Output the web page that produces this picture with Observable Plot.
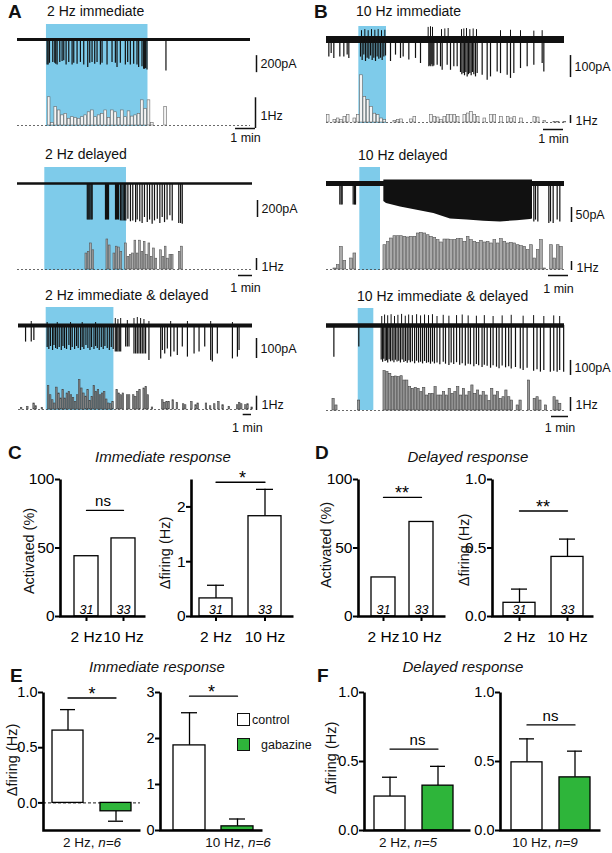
<!DOCTYPE html>
<html><head><meta charset="utf-8">
<script src="https://cdn.jsdelivr.net/npm/d3@7"></script>
<script src="https://cdn.jsdelivr.net/npm/@observablehq/plot@0.6"></script>
<style>
body{margin:0;background:#fff}
#fig{position:relative;width:612px;height:853px;overflow:hidden;font-family:"Liberation Sans",Arial,Helvetica,sans-serif;color:#111;background:#fff}
.t{position:absolute;white-space:nowrap;line-height:1}
.bar g[aria-label="y-axis"] line,.bar g[aria-label="x-axis"] line,.bar g[aria-label="y-axis tick"] path,.bar g[aria-label="x-axis tick"] path{stroke-width:2px}
</style></head><body><div id="fig"></div>
<script>
const BLUE = "#7ecbea", GREEN = "#2eb53a";
const FONT = '"Liberation Sans", Arial, Helvetica, sans-serif';

// ================= DATA: panels A & B (recording traces) =================
const traceTitles = ["2 Hz immediate", "2 Hz delayed", "2 Hz immediate & delayed",
                     "10 Hz immediate", "10 Hz delayed", "10 Hz immediate & delayed"];
const traceDur = [700, 1007, 1690, 714, 714, 840];           // s
const stimWin = [[87,392],[117,467],[200,689],[97,180],[100,162],[112,167]]; // s
const binWidth = [10, 10, 15, 10, 10, 10];                    // s per rate bin
const currentScale = [200, 200, 100, 100, 50, 100];           // pA scale bars

// spikes: [time s, downward amplitude pA]
const a1Spikes = [[89,300],[92,300],[96,280],[106,270],[112,280],[115,290],[119,300],[127,270],[134,260],[139,250],[146,300],[154,270],[164,300],[169,280],[179,290],[189,270],[199,300],[211,330],[217,280],[224,270],[232,290],[239,270],[249,300],[254,280],[269,300],[284,270],[294,280],[299,330],[309,280],[324,300],[331,270],[339,300],[349,290],[359,300],[364,330],[374,320],[379,350],[382,350],[385,340],[389,360],[446,370]];
const a2Spikes = [[299,430],[303,430],[307,430],[311,430],[316,430],[320,430],[377,430],[381,430],[386,430],[390,430],[420,430],[424,430],[429,430],[433,430],[441,440],[447,440],[453,440],[459,440],[464,440],[473,420],[484,450],[494,440],[506,460],[513,430],[524,450],[534,470],[544,400],[556,460],[566,430],[577,480],[587,440],[599,420],[610,470],[620,400],[630,460],[641,430],[653,380],[663,440],[691,470],[699,470],[706,480]];
const a3Spikes = [[51,83],[92,83],[111,75],
 [207,110],[219,120],[231,105],[246,125],[256,100],[268,115],[280,120],[294,110],[309,125],[321,105],[333,115],[347,120],[364,100],[376,125],[388,110],[405,120],[419,105],[431,115],[448,125],[460,110],[472,120],[487,100],[501,115],[516,125],[528,110],[545,120],[557,105],[569,115],[583,125],[598,110],[612,120],[624,105],[641,115],[656,125],[670,110],[684,120],
 [699,133],[709,133],[718,133],[728,133],[738,133],[774,108],[786,108],[798,108],[834,142],[846,142],[858,142],[870,142],[882,142],[894,142],[906,142],[918,142],[942,175],[1027,167],[1039,125],[1056,142],[1075,117],[1099,158],[1123,133],[1147,150],[1183,108],[1220,158],[1268,142],[1304,133],[1345,108],[1388,175],[1400,183],[1436,142],[1545,167],[1581,158],[1593,125]];
const b1Spikes = [[7,79],[14,64],[22,86],[40,79],[52,79],[62,71],[67,86],
 [102,80],[107,95],[112,70],[117,100],[122,85],[127,90],[132,75],[137,95],[142,85],[147,100],[152,80],[157,90],[162,85],[167,95],[172,80],[177,75],
 [192,100],[207,71],[222,86],[230,79],[247,93],[267,86],[282,109],[307,124],[310,120],[313,124],[316,115],[319,124],[322,120],[332,117],[342,124],[347,140],[362,117],[372,140],[382,124],[392,124],[402,150],[406,160],[410,155],[414,165],[418,150],[422,170],[426,160],[430,155],[434,165],[438,150],[442,160],[447,170],[452,155],[467,162],[482,185],[492,170],[512,148],[522,155],[542,162],[552,177],[562,155],[582,132],[602,124],[622,117],[647,109],[652,148]];
const b2Spikes = [[40,72],[44,72],[47,72],[80,72],[84,72],[87,72],[622,128],[627,122],[634,128],[667,133],[672,128],[680,133],[692,122],[700,128]];
const b2Band = [[172,60],[180,67],[222,78],[272,89],[322,100],[372,118],[422,122],[472,126],[522,128],[572,124],[612,120],[618,118]]; // dense firing envelope [t, pA]
const b3Spikes = [[26,211],[114,144],
 [193,230],[198,245],[202,225],[207,240],[212,235],[216,250],[221,228],[226,242],[232,236],[238,248],[243,232],[249,244],[255,238],[261,250],[267,230],[273,246],[279,240],[285,252],[291,235],[296,248],[303,242],[311,255],[318,238],[325,250],[332,245],[339,256],[346,240],[353,252],[360,248],[367,258],[374,244],[381,256],
 [390,250],[400,262],[412,245],[420,258],[432,266],[440,250],[449,260],[459,248],[470,265],[479,255],[490,270],[500,258],[508,262],[520,275],[529,260],[537,268],[549,280],[557,265],[567,272],[579,285],[588,268],[600,278],[609,288],[620,270],[632,282],[643,275],[652,290],[667,280],
 [684,290],[694,300],[708,285],[731,305],[743,295],[755,311],[767,300],[790,311],[802,305],[814,311],[823,300],[837,311]];
// upward deflections [t s, pA]
const a3Up = [[92,20],[207,15],[280,15],[376,15],[460,15],[557,15],[699,35],[718,30],[738,35],[786,25],[834,35],[858,40],[882,35],[906,30],[942,20],[1099,20],[1220,20],[1388,20],[1545,15]];
const b1Up = [[105,40],[115,45],[125,40],[135,45],[145,42],[155,45],[165,40],[175,42],[305,55],[312,58],[318,55],[345,45],[355,48],[365,50],[405,45],[412,48],[420,50],[430,45],[440,48],[450,45],[522,40],[552,42],[582,40],[622,38],[647,40]];
const b3Up = [[195,60],[205,70],[216,65],[228,72],[240,60],[252,68],[265,74],[278,62],[290,70],[303,66],[318,72],[332,64],[346,70],[360,66],[374,72],[390,60],[412,68],[432,62],[459,66],[479,70],[500,64],[529,62],[557,66],[588,60],[620,64],[652,68],[694,62],[731,66],[767,60],[802,64],[823,60]];

// firing-rate histograms: [bin index, Hz]
const a1Rate = [[9,0.92],[10,0.08],[11,0.6],[12,0.49],[13,0.33],[14,0.38],[15,0.22],[16,0.27],[17,0.25],[18,0.22],[19,0.27],[20,0.33],[21,0.43],[22,0.49],[23,0.27],[24,0.33],[25,0.38],[26,0.49],[27,0.25],[28,0.49],[29,0.43],[30,0.25],[31,0.49],[32,0.27],[33,0.46],[34,0.29],[35,0.33],[36,0.38],[37,0.82],[38,0.54],[39,0.82],[40,0.08],[44,0.6]];
const a2Rate = [[29,1.33],[30,1.47],[31,2.17],[32,1.6],[38,2.5],[39,2.0],[41,1.33],[42,1.9],[43,1.83],[44,1.47],[46,2.17],[47,1.05],[48,1.2],[49,1.33],[50,2.4],[51,1.33],[52,2.4],[53,1.47],[54,2.3],[55,1.2],[56,2.17],[57,1.05],[58,1.75],[59,0.9],[61,1.6],[62,1.05],[63,1.9],[64,0.9],[65,1.2],[66,1.2],[69,1.47],[70,1.9]];
const a3Rate = [[1,0.12],[4,0.19],[7,0.42],[8,0.23],[11,0.12],[14,1.63],[15,1.0],[16,0.65],[17,0.42],[18,1.53],[19,1.12],[20,0.77],[21,1.35],[22,0.77],[23,1.12],[24,1.23],[25,1.0],[26,0.8],[27,0.53],[28,1.0],[29,2.05],[30,1.47],[31,1.12],[32,0.9],[33,1.35],[34,0.6],[35,0.88],[36,1.63],[37,1.23],[38,1.35],[39,1.0],[40,1.12],[41,1.23],[42,0.7],[43,0.42],[44,0.37],[45,0.53],[47,1.35],[48,1.12],[49,1.0],[50,1.12],[52,1.0],[53,1.0],[55,1.0],[56,0.88],[57,1.23],[58,1.35],[60,1.47],[61,1.58],[62,1.0],[64,0.14],[69,0.65],[70,0.47],[71,0.53],[72,0.53],[74,0.65],[76,0.47],[79,0.37],[80,0.3],[83,0.53],[85,0.3],[86,0.42],[90,0.42],[92,0.23],[94,0.37],[96,0.53],[98,0.3],[101,0.19],[105,0.3],[106,0.47],[107,0.37],[109,0.3],[110,0.37],[112,0.14]];
const b1Rate = [[0,0.92],[2,0.3],[3,0.5],[4,0.3],[5,0.7],[6,0.92],[8,0.5],[9,0.92],[10,5.9],[11,3.2],[12,2.8],[13,1.96],[14,1.1],[15,0.92],[16,0.5],[17,0.3],[20,0.2],[21,0.3],[22,0.38],[25,0.38],[26,0.7],[31,0.92],[32,0.7],[33,0.62],[34,0.3],[35,0.7],[36,0.92],[37,0.92],[38,0.92],[39,0.7],[41,0.92],[42,1.12],[43,1.33],[44,0.92],[45,0.7],[47,0.5],[49,0.92],[50,0.92],[52,0.7],[54,0.7],[55,0.5],[56,0.7],[58,0.5],[62,0.7],[63,0.62],[65,0.2],[68,0.08],[69,0.08],[71,0.08]];
const b2Rate = [[2,0.11],[3,0.48],[4,2.5],[5,0.96],[7,1.22],[8,1.78],[17,2.7],[18,3.07],[19,3.44],[20,3.7],[21,3.7],[22,3.7],[23,3.63],[24,3.56],[25,3.63],[26,3.63],[27,4.0],[28,4.07],[29,4.0],[30,3.81],[31,3.63],[32,3.52],[33,3.26],[34,3.0],[35,3.33],[36,3.33],[37,3.26],[38,3.26],[39,3.37],[40,3.41],[41,3.07],[42,3.63],[43,3.26],[44,3.07],[45,2.96],[46,3.19],[47,3.0],[48,3.07],[49,2.89],[50,3.26],[51,2.89],[52,3.37],[53,3.07],[54,2.89],[55,2.96],[56,2.89],[57,2.7],[58,2.59],[59,2.52],[60,2.15],[61,2.7],[62,1.22],[63,2.15],[64,3.26],[65,0.11],[67,2.7],[68,1.22],[69,2.7],[70,2.52]];
const b3Rate = [[2,0.83],[3,0.36],[11,0.71],[20,2.81],[21,2.74],[22,2.62],[23,2.38],[24,2.43],[25,2.38],[26,2.45],[27,2.14],[28,2.14],[29,1.67],[30,1.55],[31,1.62],[32,1.55],[33,1.31],[34,1.62],[35,1.07],[36,1.19],[37,1.19],[38,1.67],[39,1.07],[40,1.07],[41,1.31],[42,1.07],[43,1.55],[44,1.19],[45,1.31],[46,1.67],[47,1.07],[48,1.55],[49,1.07],[50,1.31],[51,1.79],[52,1.19],[53,1.43],[54,1.07],[55,1.31],[56,1.07],[57,0.67],[58,1.55],[59,1.07],[60,1.31],[61,0.83],[62,0.95],[63,1.43],[64,0.95],[65,0.71],[67,0.36],[68,0.71],[71,2.14],[73,0.83],[74,0.95],[75,0.71],[77,0.36],[80,0.95],[81,0.71],[82,0.48]];

// ================= DATA: panels C–F (bar graphs) =================
const freqCats = ["2 Hz", "10 Hz"];
const cellCounts = [31, 33];
const immActivated = [44, 57];          // %
const immFiring = [0.33, 1.83], immFiringSem = [0.24, 0.49];
const delActivated = [28.5, 69];        // %
const delFiring = [0.10, 0.435], delFiringSem = [0.10, 0.13];
const drugGroups = ["control", "gabazine"];
const e2Hz = [0.655, -0.076], e2HzSem = [0.19, 0.09];
const e10Hz = [1.85, 0.09], e10HzSem = [0.71, 0.16];
const f2Hz = [0.246, 0.325], f2HzSem = [0.14, 0.14];
const f10Hz = [0.494, 0.385], f10HzSem = [0.17, 0.19];
const sigLabels = ["ns", "*", "**", "**", "*", "*", "ns", "ns"];

// ================= helpers =================
const fig = document.getElementById("fig");
function put(el, left, top) {
  el.style.position = "absolute"; el.style.left = left + "px"; el.style.top = top + "px";
  fig.appendChild(el); return el;
}
function txt(html, x, y, size, o = {}) {
  const d = document.createElement("div");
  d.className = "t"; d.innerHTML = html; d.style.fontSize = size + "px";
  if (o.bold) d.style.fontWeight = "bold";
  if (o.italic) d.style.fontStyle = "italic";
  d.style.left = x + "px"; d.style.top = y + "px";
  const tx = o.anchor === "middle" ? "-50%" : "0";
  d.style.transform = `translate(${tx},-50%)` + (o.rotate ? ` rotate(${o.rotate}deg)` : "");
  fig.appendChild(d);
}

// ---------- trace panels ----------
const traceLayout = [
  {left:0,top:0,w:300,h:140,xL:17,xR:250,blueTop:24,blueBot:126,base:39,hzBase:125,pxHz:30.7,px100:8.5,baseW:3,sOff:190,sDx:6,hzDx:5,hzDy:3,hzTy:-10,minDx:5,minDy:3,minTy:12,hFill:"#f4f4f4",hStroke:"#666"},
  {left:0,top:140,w:300,h:140,xL:17,xR:252,blueTop:167,blueBot:270,base:183,hzBase:269,pxHz:12,px100:8.5,baseW:2.5,sOff:200,sDx:5,hzDx:4,hzDy:1,hzTy:-3,minDx:0,minDy:6,minTy:18,hFill:"#aaa",hStroke:"#555"},
  {left:0,top:280,w:300,h:150,xL:18,xR:252,blueTop:307,blueBot:410,base:325,hzBase:409,pxHz:14.3,px100:20,baseW:4,sOff:65,sDx:4,hzDx:4,hzDy:1,hzTy:-5,minDx:-1,minDy:5,minTy:18,hFill:"#888",hStroke:"#444"},
  {left:300,top:0,w:312,h:140,xL:326,xR:564,blueTop:26,blueBot:123,base:39,hzBase:122,pxHz:8,px100:22,baseW:7,sOff:73,sDx:6,hzDx:6,hzDy:1,hzTy:-2,minDx:-1,minDy:7,minTy:16,hFill:"#f4f4f4",hStroke:"#666"},
  {left:300,top:140,w:312,h:140,xL:326,xR:564,blueTop:167,blueBot:270,base:183,hzBase:269,pxHz:9,px100:30,baseW:5,sOff:80,sDx:7,hzDx:7,hzDy:1,hzTy:-2,minDx:4,minDy:6,minTy:19,hFill:"#aaa",hStroke:"#555"},
  {left:300,top:280,w:312,h:150,xL:326,xR:564,blueTop:308,blueBot:410,base:325,hzBase:410,pxHz:14,px100:15,baseW:4.5,sOff:233,sDx:6,hzDx:6,hzDy:1,hzTy:-6,minDx:4,minDy:6,minTy:17,hFill:"#999",hStroke:"#444"}
];
const traceSpikes = [a1Spikes, a2Spikes, a3Spikes, b1Spikes, b2Spikes, b3Spikes];
const traceUp = [[], [], a3Up, b1Up, [], b3Up];
const traceRate = [a1Rate, a2Rate, a3Rate, b1Rate, b2Rate, b3Rate];
const traceBand = [null, null, null, null, b2Band, null];

function tracePanel(i) {
  const L = traceLayout[i], dur = traceDur[i], bw = binWidth[i];
  const wrap = document.createElement("div");
  wrap.style.width = L.w + "px"; wrap.style.height = L.h + "px";
  const xOpt = {domain: [0, dur], range: [L.xL - L.left, L.xR - L.left], axis: null};
  const st = {background: "transparent", fontFamily: FONT, color: "#111", overflow: "visible"};
  const back = Plot.plot({
    width: L.w, height: L.h, marginLeft: 0, marginRight: 0,
    marginTop: L.blueTop - L.top, marginBottom: L.top + L.h - L.blueBot,
    x: xOpt,
    y: {domain: [0, 1], range: [L.hzBase - L.top, L.hzBase - L.top - L.pxHz], axis: null},
    style: st,
    marks: [
      Plot.rect([stimWin[i]], {x1: d => d[0], x2: d => d[1], fill: BLUE}),
      Plot.ruleY([0], {x1: 0, x2: dur, stroke: "#444", strokeWidth: 0.8, strokeDasharray: "2,2"}),
      Plot.rect(traceRate[i], {x1: d => d[0] * bw, x2: d => (d[0] + 1) * bw, y1: 0, y2: d => d[1], fill: L.hFill, stroke: L.hStroke, strokeWidth: 0.6, insetLeft: 0.3, insetRight: 0.3}),
      Plot.ruleX([1], {x: dur, y1: 0, y2: d => d, dx: L.hzDx, dy: L.hzDy, strokeWidth: 1.5, stroke: "#111"}),
      Plot.text(["1Hz"], {x: dur, y: 0, text: d => d, dx: L.hzDx + 5, dy: L.hzTy, textAnchor: "start", fontSize: 12.5}),
      Plot.ruleY([60], {x1: d => dur - d, x2: dur, y: 0, dx: L.minDx, dy: L.minDy, strokeWidth: 1.5, stroke: "#111"}),
      Plot.text(["1 min"], {x: () => dur - 30, y: 0, text: d => d, dx: L.minDx, dy: L.minTy, fontSize: 12.5})
    ]
  });
  const front = Plot.plot({
    width: L.w, height: L.h, marginLeft: 0, marginRight: 0, marginTop: 0, marginBottom: 0,
    x: xOpt,
    y: {domain: [0, 100], range: [L.base - L.top, L.base - L.top + L.px100], axis: null},
    style: st,
    marks: [
      traceBand[i] ? Plot.area(traceBand[i], {x1: d => d[0], y1: -12, y2: d => d[1], fill: "#111"}) : null,
      Plot.ruleY([0], {x1: 0, x2: dur, strokeWidth: L.baseW, stroke: "#111"}),
      Plot.ruleX(traceSpikes[i], {x: d => d[0], y1: 0, y2: d => d[1], strokeWidth: 1.2, stroke: "#111"}),
      Plot.ruleX(traceUp[i], {x: d => d[0], y1: 0, y2: d => -d[1], strokeWidth: 1, stroke: "#111"}),
      Plot.ruleX([currentScale[i]], {x: dur, y1: L.sOff, y2: d => L.sOff + d, dx: L.sDx, strokeWidth: 1.5, stroke: "#111"}),
      Plot.text([currentScale[i]], {x: dur, y: d => L.sOff + d / 2, text: d => d + "pA", dx: L.sDx + 4, textAnchor: "start", fontSize: 12.5})
    ].filter(Boolean)
  });
  for (const s of [back, front]) { s.style.position = "absolute"; s.style.left = "0"; s.style.top = "0"; wrap.appendChild(s); }
  put(wrap, L.left, L.top);
}
for (let i = 0; i < 6; i++) tracePanel(i);

// titles for A/B
txt("A", 8, 11, 19, {bold: true});
txt("B", 314, 11, 19, {bold: true});
const titlePos = [[47,11],[45,154],[45,295],[356,11],[358,155],[357,296]];
traceTitles.forEach((s, i) => txt(s.replace("&", "&amp;"), titlePos[i][0], titlePos[i][1], 14));

// ---------- bar charts ----------
function rowsOf(cats, vals, sems, ns) {
  return cats.map((c, j) => ({cat: c, value: vals[j],
    err: sems ? vals[j] + Math.sign(vals[j]) * sems[j] : null, n: ns ? ns[j] : null,
    group: c}));
}
function barChart(P) {
  const fw = P.width - P.ml - P.mr, fh = P.height - P.mt - P.mb;
  const rows = P.rows;
  const withErr = rows.filter(d => d.err != null);
  const sigLine = rows.map(d => ({cat: d.cat, level: P.sigLevel}));
  const svg = Plot.plot({
    width: P.width, height: P.height, marginLeft: P.ml, marginRight: P.mr, marginTop: P.mt, marginBottom: P.mb,
    style: {fontFamily: FONT, fontSize: P.fs + "px", background: "transparent", color: "#000", overflow: "visible"},
    color: {type: "identity"},
    x: {domain: rows.map(d => d.cat), paddingInner: P.pi, paddingOuter: P.po, align: P.al,
        axis: P.xAxis ? "bottom" : null, tickSize: 5, tickPadding: 9, label: null},
    y: {domain: P.ydom, ticks: P.yticks, tickFormat: P.fmt, tickSize: 5, tickPadding: 1, label: null},
    marks: [
      P.zero ? Plot.ruleY([0], {strokeDasharray: "3,2", strokeWidth: 0.9}) : null,
      Plot.ruleX(withErr, {x: "cat", y1: "value", y2: "err", strokeWidth: 1.3}),
      Plot.tickY(withErr, {x: "cat", y: "err", insetLeft: P.cap, insetRight: P.cap, strokeWidth: 1.3}),
      Plot.barY(rows, {x: "cat", y: "value", fill: d => d.group === "gabazine" ? GREEN : "white", stroke: "black", strokeWidth: 1.3}),
      P.nLabels ? Plot.text(rows, {x: "cat", y: () => 0, text: d => d.n, dy: -7, fontStyle: "italic", fontSize: 12.5}) : null,
      Plot.line(sigLine, {x: "cat", y: "level", strokeWidth: 1.3}),
      Plot.text([P.sig], {y: () => P.sigLevel, text: d => d, dy: P.sigDy, fontSize: P.sigFs}),
      Plot.frame({strokeWidth: 2.6, strokeDasharray: `0,${fw + fh},${fw + fh}`})
    ].filter(Boolean)
  });
  svg.querySelectorAll('g[aria-label*="axis"]').forEach(g => {
    g.style.fontSize = P.fs + "px"; g.style.fontFamily = FONT;
    g.querySelectorAll("text").forEach(t => t.style.fontSize = P.fs + "px");
  });
  const wrap = document.createElement("div");
  wrap.className = "bar";
  wrap.appendChild(svg);
  put(wrap, P.left, P.top);
}
const fmtInt = d3.format("d"), fmt1 = d3.format(".1f");
const cdBase = {top: 465, height: 185, mt: 14, mb: 34, fs: 15.5, xAxis: true, cap: 8};
barChart({...cdBase, left: 0, width: 160, ml: 60, mr: 15, pi: .35, po: .32, al: .58, ydom: [0,100], yticks: [0,50,100], fmt: fmtInt,
  rows: rowsOf(freqCats, immActivated, null, cellCounts), nLabels: true, sig: sigLabels[0], sigLevel: 77.4, sigDy: -9, sigFs: 15});
barChart({...cdBase, left: 160, width: 145, ml: 31, mr: 12, pi: .33, po: .2, al: .4, ydom: [0,2.5], yticks: [0,1,2], fmt: fmtInt,
  rows: rowsOf(freqCats, immFiring, immFiringSem, cellCounts), nLabels: true, sig: sigLabels[1], sigLevel: 2.45, sigDy: -4, sigFs: 18});
barChart({...cdBase, left: 305, width: 150, ml: 53, mr: 10, pi: .37, po: .315, al: .5, ydom: [0,100], yticks: [0,50,100], fmt: fmtInt,
  rows: rowsOf(freqCats, delActivated, null, cellCounts), nLabels: true, sig: sigLabels[2], sigLevel: 86.9, sigDy: -4, sigFs: 18});
barChart({...cdBase, left: 455, width: 150, ml: 37, mr: 12, pi: .33, po: .2, al: .55, ydom: [0,1], yticks: [0,0.5,1], fmt: fmt1,
  rows: rowsOf(freqCats, delFiring, delFiringSem, cellCounts), nLabels: true, sig: sigLabels[3], sigLevel: 0.77, sigDy: -4, sigFs: 18});

const efBase = {top: 680, height: 173, mt: 12, mb: 23, fs: 14.5, xAxis: false, cap: 8};
barChart({...efBase, left: 0, width: 150, ml: 43, mr: 10, pi: .36, po: .18, al: .5, ydom: [-0.25,1], yticks: [0,0.5,1], fmt: fmt1,
  rows: rowsOf(drugGroups, e2Hz, e2HzSem), zero: true, sig: sigLabels[4], sigLevel: 0.95, sigDy: -4, sigFs: 18});
barChart({...efBase, left: 135, width: 135, ml: 25, mr: 8, pi: .34, po: .22, al: .6, ydom: [0,3], yticks: [0,1,2,3], fmt: fmtInt,
  rows: rowsOf(drugGroups, e10Hz, e10HzSem), sig: sigLabels[5], sigLevel: 2.92, sigDy: -4, sigFs: 18});
barChart({...efBase, left: 310, width: 170, ml: 54, mr: 10, pi: .36, po: .27, al: .38, ydom: [0,1], yticks: [0,0.5,1], fmt: fmt1,
  rows: rowsOf(drugGroups, f2Hz, f2HzSem), sig: sigLabels[6], sigLevel: 0.59, sigDy: -9, sigFs: 15});
barChart({...efBase, left: 470, width: 135, ml: 30, mr: 5, pi: .35, po: .215, al: .55, ydom: [0,1], yticks: [0,0.5,1], fmt: fmt1,
  rows: rowsOf(drugGroups, f10Hz, f10HzSem), sig: sigLabels[7], sigLevel: 0.765, sigDy: -9, sigFs: 15});

// panel letters, titles, axis labels
txt("C", 8, 452, 19, {bold: true});
txt("D", 315, 452, 19, {bold: true});
txt("E", 10, 675, 19, {bold: true});
txt("F", 317, 675, 19, {bold: true});
txt("Immediate response", 163, 456, 15, {italic: true, anchor: "middle"});
txt("Delayed response", 468, 456, 15, {italic: true, anchor: "middle"});
txt("Immediate response", 157, 666, 15, {italic: true, anchor: "middle"});
txt("Delayed response", 463, 666, 15, {italic: true, anchor: "middle"});
txt("Activated (%)", 29, 551, 14.5, {anchor: "middle", rotate: -90});
txt("Δfiring (Hz)", 165, 553, 14.5, {anchor: "middle", rotate: -90});
txt("Activated (%)", 326, 545, 14.5, {anchor: "middle", rotate: -90});
txt("Δfiring (Hz)", 464, 550, 14.5, {anchor: "middle", rotate: -90});
txt("Δfiring (Hz)", 12, 760, 14.5, {anchor: "middle", rotate: -90});
txt("Δfiring (Hz)", 331, 758, 14.5, {anchor: "middle", rotate: -90});
txt("2 Hz, <i>n=6</i>", 92, 843, 13.5, {anchor: "middle"});
txt("10 Hz, <i>n=6</i>", 238, 843, 13.5, {anchor: "middle"});
txt("2 Hz, <i>n=5</i>", 408, 843, 13.5, {anchor: "middle"});
txt("10 Hz, <i>n=9</i>", 545, 843, 13.5, {anchor: "middle"});

// legend (E)
function swatch(left, top, fill) {
  const b = document.createElement("div");
  Object.assign(b.style, {width: "11px", height: "11px", border: "1.3px solid #111", background: fill});
  put(b, left, top);
}
swatch(237, 713, "white"); txt(drugGroups[0], 252, 720, 12.5);
swatch(237, 738, GREEN); txt(drugGroups[1], 261, 745, 12.5);
</script></body></html>
